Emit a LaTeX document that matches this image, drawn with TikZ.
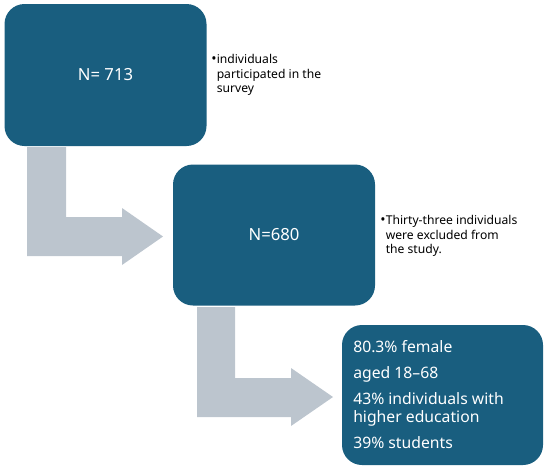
\documentclass[tikz,border=0pt]{standalone}
\usepackage{fontspec}
\setmainfont{Noto Sans}
\definecolor{boxblue}{HTML}{195E7F}
\definecolor{arrgray}{HTML}{BCC5CE}
\begin{document}
\begin{tikzpicture}[x=0.75pt,y=-0.75pt,
  stagebox/.style={fill=boxblue, draw=none, rounded corners=15pt, text=white, inner sep=0pt},
  notetext/.style={anchor=north west, align=left, inner sep=0pt, font=\fontsize{9.1pt}{10.9pt}\selectfont},
  bulletmark/.style={anchor=base west, inner sep=0pt, font=\fontsize{10.5pt}{10.9pt}\selectfont},
  bentarrow/.style={fill=arrgray, draw=none}]
\useasboundingbox (0,0) rectangle (550,472);
\node[stagebox, minimum width=202*0.75pt, minimum height=142*0.75pt, font=\fontsize{12.5pt}{15pt}\selectfont] (b1) at (105.5,75) {N= 713};
\node[stagebox, minimum width=202*0.75pt, minimum height=141*0.75pt, font=\fontsize{12.5pt}{15pt}\selectfont] (b2) at (274,235) {N=680};
\node[stagebox, minimum width=201*0.75pt, minimum height=140*0.75pt] (b3) at (442.5,395) {};
\node[anchor=north west, align=left, inner sep=0pt, text=white, font=\fontsize{11.8pt}{13.5pt}\selectfont] (t3) at (353,340) {80.3\% female\\[6pt] aged 18–68\\[6pt] 43\% individuals with\\ higher education\\[6pt] 39\% students};
\node[bulletmark] (m1) at (211,63) {\textbullet};
\node[notetext] (t1) at (216.5,54) {individuals\\ participated in the\\ survey};
\node[bulletmark] (m2) at (380,224) {\textbullet};
\node[notetext] (t2) at (385.5,215) {Thirty-three individuals\\ were excluded from\\ the study.};
\fill[bentarrow] (27,147) -- (66,147) -- (66,217) -- (122,217) -- (122,208) -- (163,236.5) -- (122,265) -- (122,256) -- (27,256) -- cycle;
\fill[bentarrow] (197,307) -- (235,307) -- (235,378) -- (291,378) -- (291,368) -- (333,397) -- (291,426) -- (291,417) -- (197,417) -- cycle;
\end{tikzpicture}
\end{document}
